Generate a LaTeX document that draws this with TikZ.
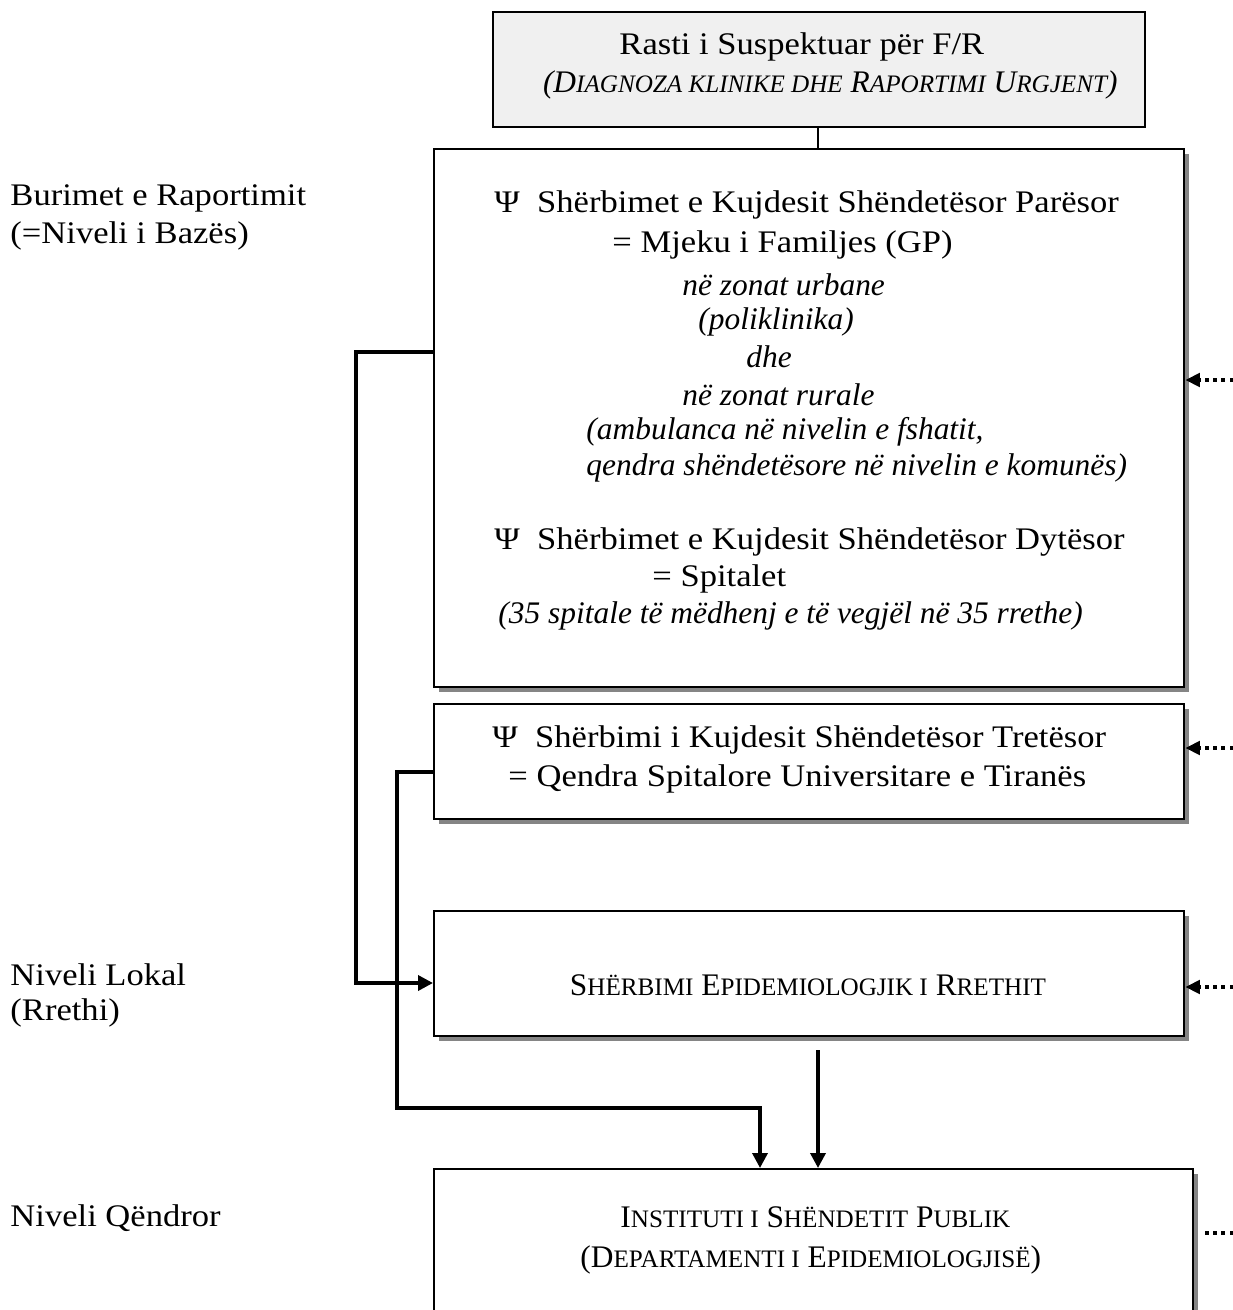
\documentclass[tikz,border=0pt]{standalone}
\usepackage{fontspec}
\setmainfont{Liberation Serif}[UprightFeatures={FakeStretch=1.1}]
\newfontfamily\scfont{Liberation Serif}
\usetikzlibrary{arrows.meta,shadows}
% one drawing unit = one pixel of the layout grid
\newcommand\pxu{0.4138pt}
% faked small capitals: lower-size uppercase letters
\newcommand\smc[1]{{\fontsize{10.4}{11}\selectfont #1}}
\newcommand\psisym{Ψ\hspace{0.55em}}

\begin{document}
\begin{tikzpicture}[x=0.4138pt,y=-0.4138pt,
  font=\fontsize{13}{14.5}\selectfont,
  box/.style={draw, line width=1pt, fill=white, anchor=north west, inner sep=0pt,
    drop shadow={shadow xshift=2.1pt, shadow yshift=-2.1pt, fill=black!48, opacity=1}},
  headbox/.style={draw, line width=0.8pt, fill=black!6, anchor=north west, inner sep=0pt},
  txt/.style={inner sep=0pt, anchor=west},
  ctxt/.style={inner sep=0pt, anchor=center},
  conn/.style={line width=1.45pt, -{Triangle[length=6.2pt, width=6.2pt]}},
  feed/.style={line width=1.45pt, dash pattern=on 1.45pt off 1.9pt,
    -{Triangle[length=6pt, width=5.6pt]}},
  feedend/.style={line width=1.45pt, dash pattern=on 1.45pt off 1.9pt}]

\clip (0,0) rectangle (1233,1310);

% ---- boxes ----
\node[headbox, minimum width=652*\pxu, minimum height=115*\pxu] (top) at (492,11) {};
\node[box, minimum width=750*\pxu, minimum height=538*\pxu] (prim) at (433,148) {};
\node[box, minimum width=750*\pxu, minimum height=115*\pxu] (tert) at (433,703) {};
\node[box, minimum width=750*\pxu, minimum height=125*\pxu] (dist) at (433,910) {};
\node[box, minimum width=759*\pxu, minimum height=320*\pxu] (inst) at (433,1168) {};

% ---- header texts ----
\node[txt] (toptxt1) at (619,47) {Rasti i Suspektuar për F/R};
\node[inner sep=0pt, anchor=east] (toptxt2) at (1118,85) {\scfont\itshape (D\smc{IAGNOZA KLINIKE DHE} R\smc{APORTIMI} U\smc{RGJENT})};

% ---- primary / secondary care ----
\node[txt] (p1) at (494,205) {\psisym Shërbimet e Kujdesit Shëndetësor Parësor};
\node[txt] (p2) at (612,245) {= Mjeku i Familjes (GP)};
\node[txt] (p3) at (682,285) {\itshape në zonat urbane};
\node[txt] (p4) at (698,322) {\itshape (poliklinika)};
\node[txt] (p5) at (746,357) {\itshape dhe};
\node[txt] (p6) at (682,395) {\itshape në zonat rurale};
\node[txt] (p7) at (586,432) {\itshape (ambulanca në nivelin e fshatit,};
\node[txt] (p8) at (586,468) {\itshape qendra shëndetësore në nivelin e komunës)};
\node[txt] (s1) at (494,542) {\psisym Shërbimet e Kujdesit Shëndetësor Dytësor};
\node[txt] (s2) at (652,579) {= Spitalet};
\node[txt] (s3) at (498,616) {\itshape (35 spitale të mëdhenj e të vegjël në 35 rrethe)};

% ---- tertiary care ----
\node[txt] (t1) at (492,740) {\psisym Shërbimi i Kujdesit Shëndetësor Tretësor};
\node[txt] (t2) at (508,779) {= Qendra Spitalore Universitare e Tiranës};

% ---- district and central level ----
\node[ctxt] (d1) at (808,985) {\scfont S\smc{HËRBIMI} E\smc{PIDEMIOLOGJIK I} R\smc{RETHIT}};
\node[txt] (i1) at (620,1217) {\scfont I\smc{NSTITUTI I} S\smc{HËNDETIT} P\smc{UBLIK}};
\node[txt] (i2) at (580,1260) {\scfont (D\smc{EPARTAMENTI I} E\smc{PIDEMIOLOGJISË})};

% ---- level labels ----
\node[txt] (lv1a) at (10,198) {Burimet e Raportimit};
\node[txt] (lv1b) at (10,236) {(=Niveli i Bazës)};
\node[txt] (lv2a) at (10,975) {Niveli Lokal};
\node[txt] (lv2b) at (10,1013) {(Rrethi)};
\node[txt] (lv3) at (10,1218) {Niveli Qëndror};

% ---- connectors ----
\coordinate (tx) at (818,0);
\draw[line width=0.6pt] (top.south -| tx) -- (prim.north -| tx);

\coordinate (a1) at (356,352);
\coordinate (a2) at (356,983);
\draw[conn] (prim.west |- a1) -- (a1) -- (a2) -- (dist.west |- a2);

\coordinate (b1) at (397,772);
\coordinate (b2) at (397,1108);
\coordinate (b3) at (760,1108);
\draw[conn] (tert.west |- b1) -- (b1) -- (b2) -- (b3) -- (inst.north -| b3);

\coordinate (c1) at (818,1050);
\draw[conn] (c1) -- (inst.north -| c1);

% ---- incoming dotted feeds ----
\coordinate (f1) at (1233,380);
\coordinate (f2) at (1233,748);
\coordinate (f3) at (1233,987);
\coordinate (f4) at (1233,1233);
\draw[feed] (f1) -- (prim.east |- f1);
\draw[feed] (f2) -- (tert.east |- f2);
\draw[feed] (f3) -- (dist.east |- f3);
\coordinate (f4s) at (1202,1233);
\draw[feedend] (f4) -- (f4s);
\end{tikzpicture}
\end{document}
